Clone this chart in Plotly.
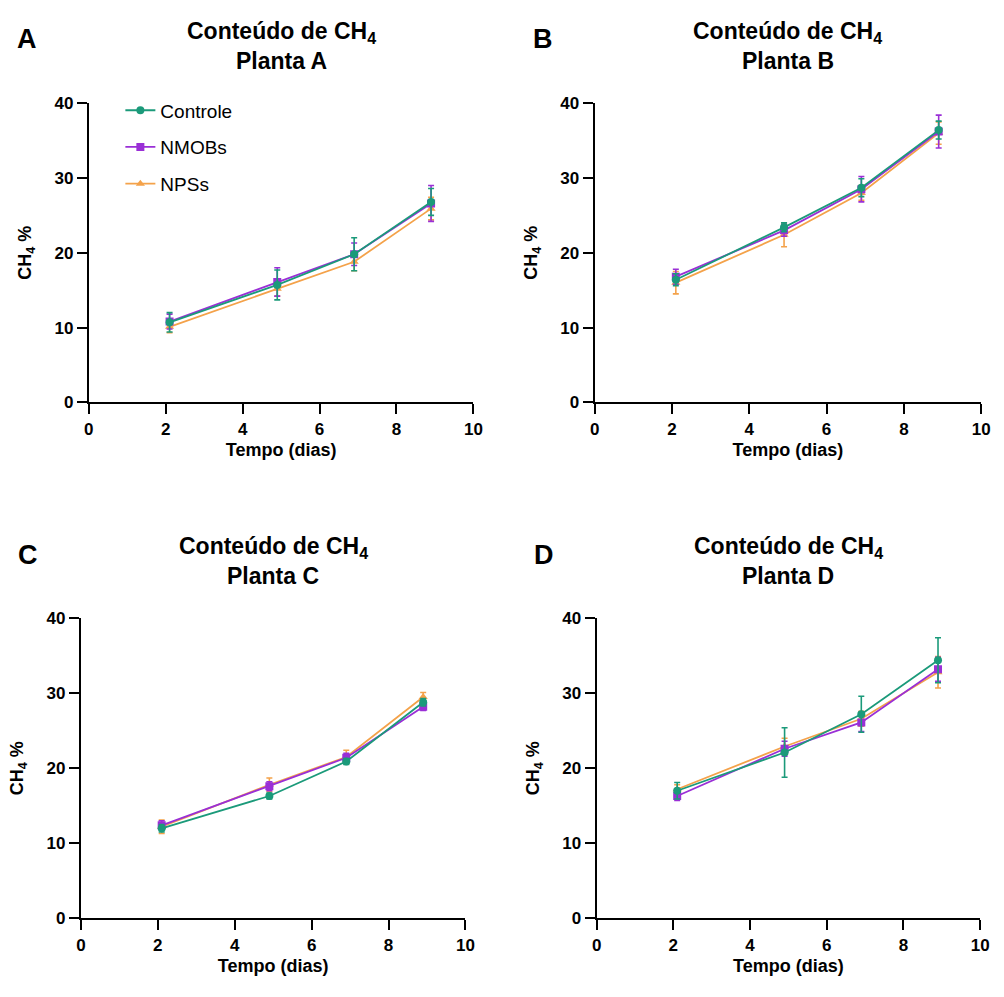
import plotly.graph_objects as go

days = [2.1, 4.9, 6.9, 8.9]
series_names = ["Controle", "NMOBs", "NPSs"]
panel_letters = ["A", "B", "C", "D"]
plant_names = ["Planta A", "Planta B", "Planta C", "Planta D"]

A_controle = [10.7, 15.7, 19.8, 26.8]
A_controle_err = [1.3, 2.0, 2.2, 1.8]
A_nmobs = [10.8, 16.1, 19.8, 26.6]
A_nmobs_err = [1.0, 1.9, 1.5, 2.4]
A_npss = [10.1, 15.2, 18.8, 25.9]
A_npss_err = [0.8, 1.0, 1.2, 1.5]

B_controle = [16.4, 23.4, 28.7, 36.4]
B_controle_err = [0.8, 0.6, 1.2, 1.2]
B_nmobs = [16.8, 23.0, 28.5, 36.2]
B_nmobs_err = [1.0, 0.8, 1.7, 2.2]
B_npss = [16.0, 22.4, 28.0, 36.0]
B_npss_err = [1.5, 1.6, 1.0, 1.5]

C_controle = [12.0, 16.3, 20.9, 28.8]
C_controle_err = [0.5, 0.4, 0.4, 0.5]
C_nmobs = [12.4, 17.6, 21.4, 28.2]
C_nmobs_err = [0.6, 0.6, 0.6, 0.5]
C_npss = [12.2, 17.8, 21.5, 29.5]
C_npss_err = [0.9, 0.9, 0.9, 0.6]

D_controle = [17.0, 22.1, 27.2, 34.4]
D_controle_err = [1.1, 3.3, 2.4, 3.0]
D_nmobs = [16.3, 22.6, 26.1, 33.2]
D_nmobs_err = [0.6, 1.0, 1.2, 1.6]
D_npss = [17.2, 22.9, 26.6, 32.8]
D_npss_err = [0.6, 1.1, 1.0, 2.1]

panels = [
    [(A_controle, A_controle_err), (A_nmobs, A_nmobs_err), (A_npss, A_npss_err)],
    [(B_controle, B_controle_err), (B_nmobs, B_nmobs_err), (B_npss, B_npss_err)],
    [(C_controle, C_controle_err), (C_nmobs, C_nmobs_err), (C_npss, C_npss_err)],
    [(D_controle, D_controle_err), (D_nmobs, D_nmobs_err), (D_npss, D_npss_err)],
]

colors = ["#1b9a7a", "#9a2fd6", "#f4a24a"]
symbols = ["circle", "square", "triangle-up"]

W, H = 1004, 997
# plot areas in pixels: (x0, x1, ytop, ybottom)
areas = [(85, 475, 96, 401), (598, 990, 96, 401), (77, 467, 621, 927), (600, 989, 621, 927)]
letter_pos = [(22, 31), (546, 31), (23, 557), (547, 557)]

FONT = "Arial, Liberation Sans, sans-serif"
fig = go.Figure()
layout = {}
annotations = []

for i, (x0, x1, yt, yb) in enumerate(areas):
    n = "" if i == 0 else str(i + 1)
    xd = [x0 / W, x1 / W]
    yd = [1 - yb / H, 1 - yt / H]
    axcommon = dict(
        showgrid=False, zeroline=False, showline=True, linecolor="black", linewidth=2,
        ticks="outside", ticklen=10, tickwidth=2, tickcolor="black",
        tickfont=dict(family=FONT, size=17, color="black", weight="bold"),
    )
    layout["xaxis" + n] = dict(
        domain=xd, range=[0, 10], tickvals=[0, 2, 4, 6, 8, 10], anchor="y" + n,
        title=dict(text="Tempo (dias)", font=dict(family=FONT, size=18, color="black", weight="bold"), standoff=6),
        **axcommon,
    )
    layout["yaxis" + n] = dict(
        domain=yd, range=[0, 40], tickvals=[0, 10, 20, 30, 40], anchor="x" + n,
        title=dict(text="CH<sub>4</sub> %", font=dict(family=FONT, size=18, color="black", weight="bold"), standoff=18),
        **axcommon,
    )
    for j in [2, 1, 0]:
        vals, errs = panels[i][j]
        fig.add_trace(go.Scatter(
            x=days, y=vals, mode="lines+markers", name=series_names[j],
            xaxis="x" + n, yaxis="y" + n,
            line=dict(color=colors[j], width=1.8),
            marker=dict(color=colors[j], symbol=symbols[j], size=8),
            error_y=dict(type="data", array=errs, visible=True, color=colors[j], thickness=1.6, width=3),
            showlegend=(i == 0), legendrank=j + 1, legendgroup=series_names[j],
        ))
    cx = (x0 + x1) / 2
    annotations.append(dict(
        text="Conteúdo de CH<sub>4</sub>",
        x=cx / W, y=1 - (yt - 72) / H, xref="paper", yref="paper",
        xanchor="center", yanchor="middle", showarrow=False,
        font=dict(family=FONT, size=23, color="black", weight="bold"),
    ))
    annotations.append(dict(
        text=plant_names[i],
        x=cx / W, y=1 - (yt - 43) / H, xref="paper", yref="paper",
        xanchor="center", yanchor="middle", showarrow=False,
        font=dict(family=FONT, size=23, color="black", weight="bold"),
    ))
    lx, ly = letter_pos[i]
    annotations.append(dict(
        text=panel_letters[i], x=lx / W, y=1 - ly / H, xref="paper", yref="paper",
        xanchor="center", yanchor="middle", showarrow=False,
        font=dict(family=FONT, size=27, color="black", weight="bold"),
    ))

fig.update_layout(
    width=W, height=H, margin=dict(l=0, r=0, t=0, b=0),
    paper_bgcolor="white", plot_bgcolor="white",
    annotations=annotations,
    legend=dict(
        x=117 / W, y=1 - 84 / H, xanchor="left", yanchor="top",
        font=dict(family=FONT, size=19, color="black"),
        traceorder="grouped", tracegroupgap=9, bgcolor="rgba(0,0,0,0)",
    ),
    **layout,
)

fig.write_html("out.html")
